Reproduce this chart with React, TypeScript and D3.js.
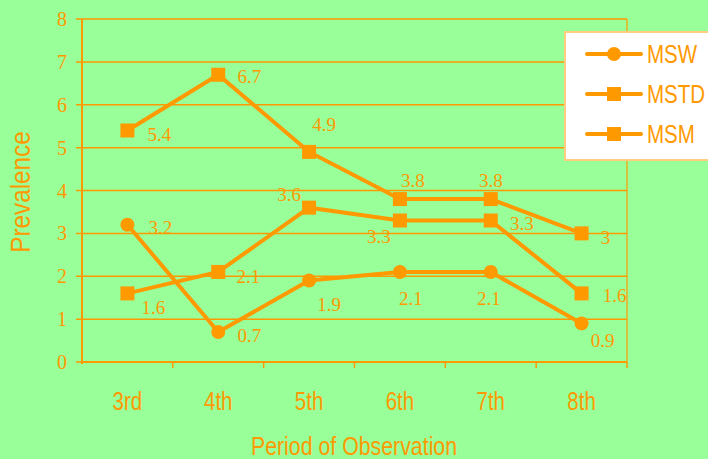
import * as d3 from "d3";

const WIDTH = 708;
const HEIGHT = 459;
const MARGIN = { top: 19, right: 81, bottom: 97, left: 82 };

const periods = ["3rd", "4th", "5th", "6th", "7th", "8th"];
const mswValues = [3.2, 0.7, 1.9, 2.1, 2.1, 0.9];
const mstdValues = [1.6, 2.1, 3.6, 3.3, 3.3, 1.6];
const msmValues = [5.4, 6.7, 4.9, 3.8, 3.8, 3.0];
const yTicks = [0, 1, 2, 3, 4, 5, 6, 7, 8];

// hand placed data labels, offsets from the point (label centre)
const mswLabelOffsets = [[33, 3], [31, 3], [20, 24], [11, 26], [-2, 26], [21, 17]];
const mstdLabelOffsets = [[26, 14], [30, 4], [-20, -13], [-21, 16], [31, 3], [33, 2]];
const msmLabelOffsets = [[32, 4], [31, 2], [15, -28], [13, -19], [0, -19], [24, 4]];

const ORANGE = "#FF9900";
const BG = "#99FF99";
const SANS = "'Liberation Sans', Arial, sans-serif";
const SERIF = "'Liberation Serif', 'Times New Roman', serif";
const NARROW = 0.82; // fake an Arial Narrow look

const series = [
  { name: "MSW", values: mswValues, offsets: mswLabelOffsets, marker: "circle" },
  { name: "MSTD", values: mstdValues, offsets: mstdLabelOffsets, marker: "square" },
  { name: "MSM", values: msmValues, offsets: msmLabelOffsets, marker: "square" },
];

const Marker = ({ type, x, y }: { type: string; x: number; y: number }) =>
  type === "circle" ? (
    <circle cx={x} cy={y} r={7} fill={ORANGE} />
  ) : (
    <rect x={x - 7} y={y - 7} width={14} height={14} fill={ORANGE} />
  );

const NarrowText = ({
  x,
  y,
  rotate = 0,
  anchor = "start",
  size = 25,
  squeeze = NARROW,
  dy = "0.35em",
  children,
}: {
  x: number;
  y: number;
  rotate?: number;
  anchor?: string;
  size?: number;
  squeeze?: number;
  dy?: string;
  children: any;
}) => (
  <text
    transform={`translate(${x},${y}) rotate(${rotate}) scale(${squeeze},1)`}
    dy={dy}
    textAnchor={anchor}
    fontFamily={SANS}
    fontSize={size}
    fill={ORANGE}
  >
    {children}
  </text>
);

export default function App() {
  const boundsWidth = WIDTH - MARGIN.left - MARGIN.right;
  const boundsHeight = HEIGHT - MARGIN.top - MARGIN.bottom;

  const xScale = d3.scaleBand().domain(periods).range([0, boundsWidth]);
  const yScale = d3.scaleLinear().domain([0, 8]).range([boundsHeight, 0]);
  const cx = (p: string) => (xScale(p) ?? 0) + xScale.bandwidth() / 2;

  const line = d3
    .line<number>()
    .x((_, i) => cx(periods[i]))
    .y((d) => yScale(d));

  return (
    <svg
      width={WIDTH}
      height={HEIGHT}
      style={{ position: "absolute", left: 0, top: 0, background: BG }}
    >
      <rect width={WIDTH} height={HEIGHT} fill={BG} />
      <g transform={`translate(${MARGIN.left},${MARGIN.top})`}>
        {/* grid + y ticks */}
        {yTicks.map((t) => (
          <g key={t}>
            <line x1={-6} x2={boundsWidth} y1={yScale(t)} y2={yScale(t)} stroke={ORANGE} strokeWidth={1.5} />
            <text
              x={-15}
              y={yScale(t)}
              dy="0.35em"
              textAnchor="end"
              fontFamily={SERIF}
              fontSize={20}
              fill={ORANGE}
            >
              {t}
            </text>
          </g>
        ))}
        <line x1={boundsWidth} x2={boundsWidth} y1={0} y2={boundsHeight} stroke={ORANGE} strokeWidth={1.2} />
        <line x1={0} x2={0} y1={0} y2={boundsHeight + 2} stroke={ORANGE} strokeWidth={2} />
        <line x1={0} x2={boundsWidth} y1={boundsHeight} y2={boundsHeight} stroke={ORANGE} strokeWidth={2} />

        {/* x ticks */}
        {periods.map((p) => (
          <g key={p}>
            <line
              x1={(xScale(p) ?? 0) + xScale.bandwidth()}
              x2={(xScale(p) ?? 0) + xScale.bandwidth()}
              y1={boundsHeight}
              y2={boundsHeight + 6}
              stroke={ORANGE}
              strokeWidth={1.5}
            />
            <NarrowText x={cx(p)} y={boundsHeight + 39} anchor="middle">
              {p}
            </NarrowText>
          </g>
        ))}

        {/* series */}
        {series.map((s) => (
          <g key={s.name}>
            <path d={line(s.values) ?? ""} fill="none" stroke={ORANGE} strokeWidth={4} />
            {s.values.map((v, i) => (
              <Marker key={i} type={s.marker} x={cx(periods[i])} y={yScale(v)} />
            ))}
            {s.values.map((v, i) => (
              <text
                key={"l" + i}
                x={cx(periods[i]) + s.offsets[i][0]}
                y={yScale(v) + s.offsets[i][1]}
                dy="0.35em"
                textAnchor="middle"
                fontFamily={SERIF}
                fontSize={19}
                fill={ORANGE}
              >
                {v}
              </text>
            ))}
          </g>
        ))}
      </g>

      {/* axis titles */}
      <NarrowText x={21} y={192} rotate={-90} anchor="middle" size={27} squeeze={0.9}>
        Prevalence
      </NarrowText>
      <NarrowText x={354} y={455} anchor="middle" size={26} dy="0">
        Period of Observation
      </NarrowText>

      {/* legend */}
      <g>
        <rect x={565} y={32} width={150} height={128} fill="#FFFFFF" stroke="#FFCC80" strokeWidth={2} />
        {series.map((s, i) => (
          <g key={s.name}>
            <line x1={587} x2={641} y1={54 + i * 40} y2={54 + i * 40} stroke={ORANGE} strokeWidth={4} strokeLinecap="round" />
            <Marker type={s.marker} x={614} y={54 + i * 40} />
            <NarrowText x={647} y={54 + i * 40}>
              {s.name}
            </NarrowText>
          </g>
        ))}
      </g>
    </svg>
  );
}
